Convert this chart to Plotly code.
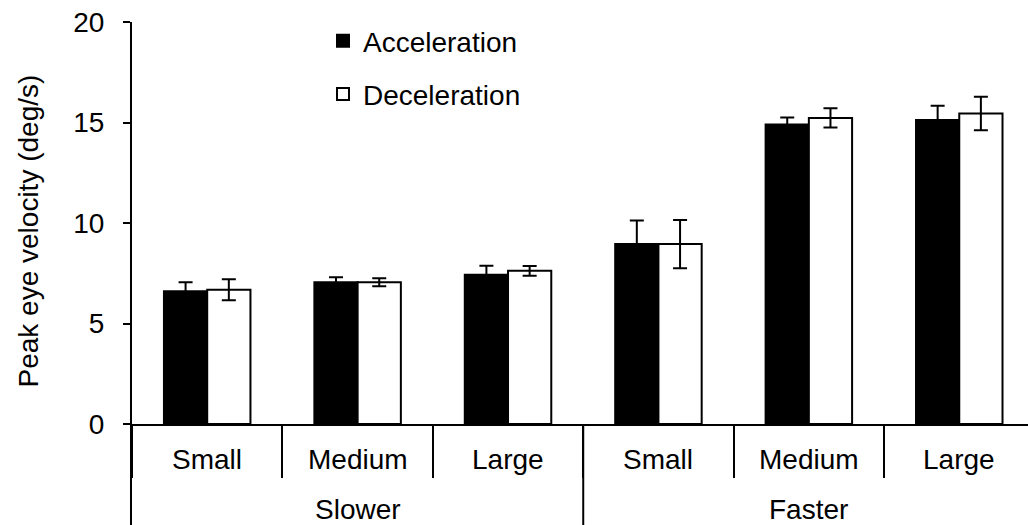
import plotly.graph_objects as go

# ---- data ----
speeds = ["Slower", "Slower", "Slower", "Faster", "Faster", "Faster"]
sizes = ["Small", "Medium", "Large", "Small", "Medium", "Large"]
accel = [6.6, 7.05, 7.42, 8.95, 14.9, 15.13]
accel_err = [0.45, 0.25, 0.45, 1.17, 0.35, 0.7]
decel = [6.68, 7.05, 7.62, 8.95, 15.23, 15.45]
decel_err = [0.52, 0.2, 0.24, 1.2, 0.48, 0.83]
y_ticks = [0, 5, 10, 15, 20]
y_title = "Peak eye velocity (deg/s)"

cats = [f"{sp} {sz}" for sp, sz in zip(speeds, sizes)]

FONT = "Liberation Sans, Arial, Helvetica, sans-serif"
FS = 28

fig = go.Figure()
fig.add_trace(go.Bar(
    x=cats, y=accel, name="Acceleration", legendgroup="a",
    marker=dict(color="black", line=dict(color="black", width=2)),
    error_y=dict(type="data", array=accel_err, visible=True,
                 color="black", thickness=2, width=7),
))
fig.add_trace(go.Bar(
    x=cats, y=decel, name="Deceleration", legendgroup="d",
    marker=dict(color="white", line=dict(color="black", width=2)),
    error_y=dict(type="data", array=decel_err, visible=True,
                 color="black", thickness=2, width=7),
))

L, R, T, B = 132, 0, 22, 101
W, H = 1028, 525
PH = H - T - B
xr = [-0.5, 5.457]
span = xr[1] - xr[0]

fig.update_layout(
    width=W, height=H,
    margin=dict(l=L, r=R, t=T, b=B, pad=0),
    paper_bgcolor="white", plot_bgcolor="white",
    barmode="group", bargap=0.425, bargroupgap=0,
    font=dict(family=FONT, size=FS, color="black"),
    showlegend=True,
    legend=dict(
        x=(323 - L) / (W - L - R), xanchor="left",
        y=1.0 + 6 / PH, yanchor="top",
        bgcolor="rgba(0,0,0,0)", borderwidth=0,
        font=dict(family=FONT, size=FS, color="black"),
        tracegroupgap=14, itemwidth=30,
    ),
    xaxis=dict(
        type="category", range=xr,
        showticklabels=False, showgrid=False, zeroline=False,
        showline=True, linecolor="black", linewidth=2,
        ticks="outside", tickson="boundaries", ticklen=52,
        tickwidth=2, tickcolor="black",
    ),
    yaxis=dict(
        range=[0, 20], tickvals=y_ticks, ticktext=[str(v) for v in y_ticks],
        showgrid=False, zeroline=False,
        showline=True, linecolor="black", linewidth=2,
        ticks="outside", ticklen=7, tickwidth=2, tickcolor="black",
        ticklabelstandoff=13,
        tickfont=dict(family=FONT, size=FS, color="black"),
    ),
)

# inner category labels
for c, sz in zip(cats, sizes):
    fig.add_annotation(x=c, xref="x", y=0, yref="paper", yshift=-35,
                       text=sz, showarrow=False, yanchor="middle",
                       font=dict(family=FONT, size=FS, color="black"))

# outer group labels and long dividers
groups = []
for i, sp in enumerate(speeds):
    if not groups or groups[-1][0] != sp:
        groups.append([sp, []])
    groups[-1][1].append(i)

for sp, idx in groups:
    mid = idx[len(idx) // 2]
    fig.add_annotation(x=cats[mid], xref="x", y=0, yref="paper", yshift=-85,
                       text=sp, showarrow=False, yanchor="middle",
                       font=dict(family=FONT, size=FS, color="black"))
    b = idx[0] - 0.5
    px = (b - xr[0]) / span
    if idx[0] == 0:
        px -= 1.0 / (W - L - R)
    fig.add_shape(type="line", xref="paper", yref="paper",
                  x0=px, x1=px, y0=0, y1=-0.3,
                  line=dict(color="black", width=2))

# y axis title
fig.add_annotation(x=0, xref="paper", xshift=27.5 - L, y=0.5, yref="paper",
                   yshift=-(231 - (T + PH / 2)),
                   text=y_title, textangle=-90, showarrow=False,
                   xanchor="center", yanchor="middle",
                   font=dict(family=FONT, size=FS, color="black"))

fig.write_html(
    "out.html",
    config={"displayModeBar": False},
    post_script="document.body.style.margin='0';document.body.style.overflow='hidden';",
)
